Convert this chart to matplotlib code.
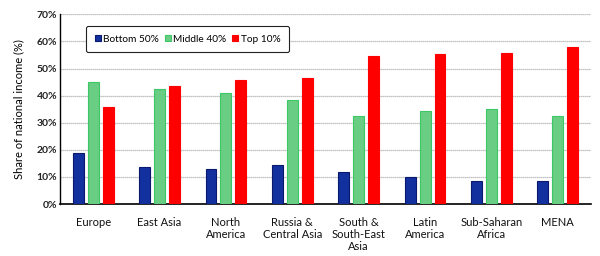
import numpy as np
import matplotlib.pyplot as plt

plt.rcParams['font.family'] = ['Lato', 'DejaVu Sans']

# Data (share of national income, %)
regions = ['Europe', 'East Asia', 'North\nAmerica', 'Russia &\nCentral Asia',
           'South &\nSouth-East\nAsia', 'Latin\nAmerica', 'Sub-Saharan\nAfrica', 'MENA']
bottom50 = [18.8, 13.8, 12.9, 14.4, 11.9, 9.8, 8.6, 8.6]
middle40 = [45.0, 42.5, 40.8, 38.4, 32.6, 34.3, 35.2, 32.6]
top10 = [35.8, 43.4, 45.7, 46.6, 54.6, 55.4, 55.7, 58.0]
yticks = [0, 10, 20, 30, 40, 50, 60, 70]

fig = plt.figure(figsize=(6, 2.56), dpi=100)
ax = fig.add_axes([0.1, 0.203, 0.885, 0.741])

x = np.arange(len(regions))
w = 0.165
off = 0.225

ax.bar(x - off, bottom50, w, color='#12309e', edgecolor='#08196e',
       linewidth=0.8, label='Bottom 50%', zorder=3)
ax.bar(x, middle40, w, color='#6acd84', edgecolor='#3cc864',
       linewidth=0.8, label='Middle 40%', zorder=3)
ax.bar(x + off, top10, w, color='#ff0000', edgecolor='#ff0000',
       linewidth=0.8, label='Top 10%', zorder=3)

ax.set_xlim(-0.5, len(regions) - 0.5)
ax.set_ylim(0, 70)
ax.set_yticks(yticks)
ax.set_yticklabels(['{}%'.format(v) for v in yticks], fontsize=7.5,
                   fontweight='bold', color='#222222')
ax.set_xticks(x)
ax.set_xticklabels(regions, fontsize=8, color='#111111', linespacing=1.15)
ax.tick_params(axis='both', length=0)
ax.tick_params(axis='x', pad=9)
ax.tick_params(axis='y', pad=2)

ax.grid(axis='y', color='#b0b0b0', linestyle=(0, (1, 0.6)), linewidth=0.9, zorder=0)
ax.set_axisbelow(True)

for side in ['top', 'right']:
    ax.spines[side].set_visible(False)
ax.spines['left'].set_linewidth(1.0)
ax.spines['bottom'].set_linewidth(1.2)

ax.set_ylabel('Share of national income (%)', fontsize=8, labelpad=9)

leg = ax.legend(loc='upper left', bbox_to_anchor=(0.04, 0.965), ncol=3,
                fontsize=7.3, frameon=True, fancybox=True, handlelength=0.55,
                handleheight=0.55, handletextpad=0.25, columnspacing=0.6,
                borderpad=0.85, edgecolor='#222222')
leg.get_frame().set_linewidth(0.8)
leg.get_frame().set_alpha(1.0)

fig.savefig('out.png', dpi=100)
